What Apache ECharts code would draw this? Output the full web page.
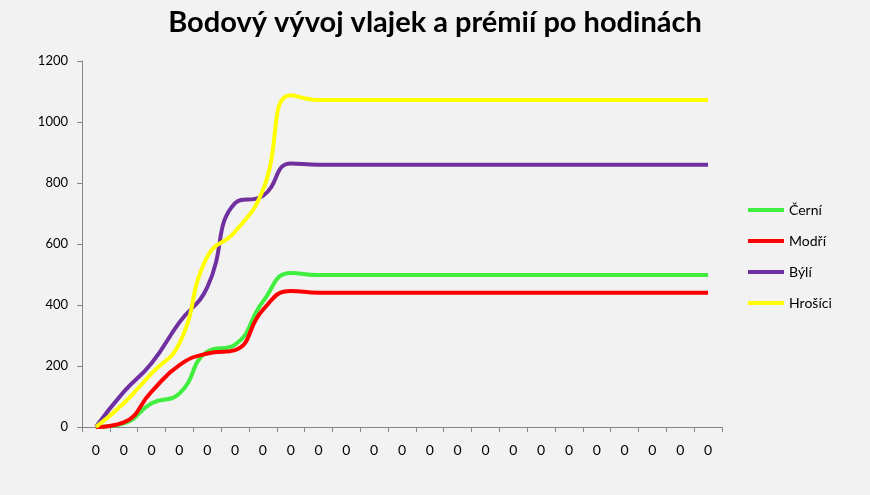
<!DOCTYPE html>
<html><head><meta charset="utf-8">
<script src="https://cdn.jsdelivr.net/npm/echarts@6/dist/echarts.min.js"></script>
<style>html,body{margin:0;padding:0;background:#f2f2f2}#c{width:870px;height:495px}</style>
</head><body><div id="c"></div>
<script>
const categories = ["0","0","0","0","0","0","0","0","0","0","0","0","0","0","0","0","0","0","0","0","0","0","0"];
const cerni   = [0, 12, 78, 110, 247, 270, 411, 505, 498, 498, 498, 498, 498, 498, 498, 498, 498, 498, 498, 498, 498, 498, 498];
const modri   = [0, 15, 116, 203, 241, 252, 384, 446, 440, 440, 440, 440, 440, 440, 440, 440, 440, 440, 440, 440, 440, 440, 440];
const byli    = [0, 115, 209, 343, 458, 734, 758, 864, 860, 860, 860, 860, 860, 860, 860, 860, 860, 860, 860, 860, 860, 860, 860];
const hrosici = [0, 78, 176, 274, 558, 640, 777, 1088, 1072, 1072, 1072, 1072, 1072, 1072, 1072, 1072, 1072, 1072, 1072, 1072, 1072, 1072, 1072];
const yTicks = {min: 0, max: 1200, interval: 200};

const font = "Lato, 'Open Sans', sans-serif";
const mk = (name, data, color) => ({
  name, type: 'line', data, smooth: 0.5, symbol: 'none',
  lineStyle: {width: 4, color}, itemStyle: {color}
});
const chart = echarts.init(document.getElementById('c'));
chart.setOption({
  backgroundColor: '#f2f2f2',
  animation: false,
  title: {text: 'Bodový vývoj vlajek a prémií po hodinách', left: 'center', top: 3,
    textStyle: {fontFamily: font, fontSize: 29, fontWeight: 'bold', color: '#000'}},
  grid: {left: 82, right: 148, top: 61, bottom: 68, containLabel: false},
  legend: {orient: 'vertical', left: 748, top: 200, padding: 0, itemGap: 11, itemWidth: 36, itemHeight: 4,
    icon: 'rect', textStyle: {fontFamily: font, fontSize: 14, color: '#000', lineHeight: 20},
    data: ['Černí', 'Modří', 'Býlí', 'Hrošíci']},
  xAxis: {type: 'category', data: categories, boundaryGap: true,
    axisLine: {lineStyle: {color: '#868686'}},
    axisTick: {show: true, length: 5, lineStyle: {color: '#868686'}},
    axisLabel: {fontFamily: font, fontSize: 14, color: '#000', margin: 16}},
  yAxis: {type: 'value', min: yTicks.min, max: yTicks.max, interval: yTicks.interval,
    axisLine: {show: true, lineStyle: {color: '#868686'}},
    axisTick: {show: true, length: 5, lineStyle: {color: '#868686'}},
    splitLine: {show: false},
    axisLabel: {fontFamily: font, fontSize: 13, color: '#000', margin: 14, formatter: v => String(v)}},
  series: [
    mk('Černí', cerni, '#40ee40'),
    mk('Modří', modri, '#ff0000'),
    mk('Býlí', byli, '#7030a0'),
    mk('Hrošíci', hrosici, '#ffff00')
  ]
});
</script></body></html>
